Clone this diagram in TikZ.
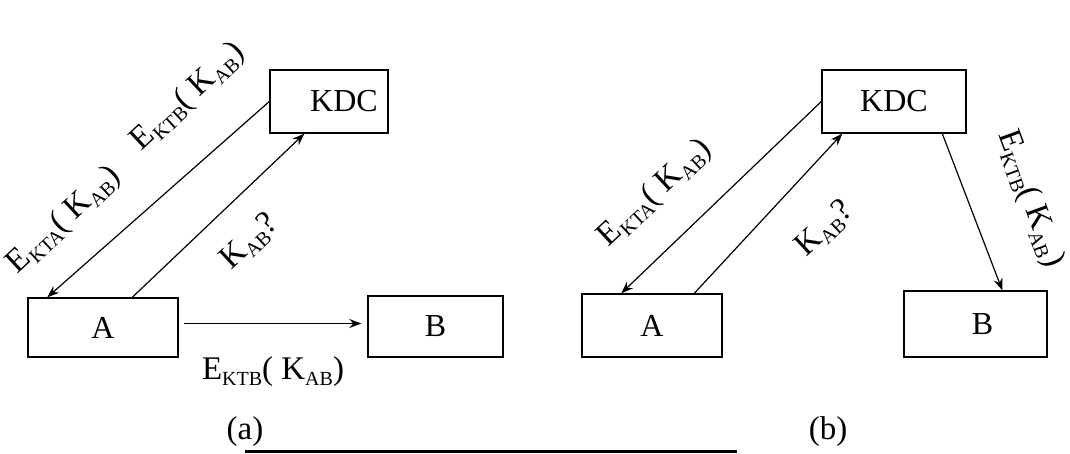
\documentclass[tikz,border=0pt]{standalone}
\usepackage{fontspec}
\setmainfont{Liberation Serif}
\usetikzlibrary{arrows.meta}
\newcommand\subs[1]{\raisebox{-6pt}{\fontsize{20}{20}\selectfont #1}}

\begin{document}
\begin{tikzpicture}[x=1pt, y=-1pt, line width=1.2pt,
  box/.style={draw, line width=1.4pt, inner sep=0pt, font=\fontsize{32}{36}\selectfont},
  msg/.style={inner sep=0pt, font=\fontsize{33}{36}\selectfont},
  arr/.style={-{Stealth[length=12pt, width=9pt, inset=4pt]}}]
  \useasboundingbox (0,0) rectangle (1070,453);
  % (a) A asks the KDC, then forwards B's copy
  \node[box, minimum width=118, minimum height=63,
        label={[box, draw=none, xshift=15pt]center:KDC}] (kdcA) at (329,101.5) {};
  \node[box, minimum width=150, minimum height=59] (aA) at (103,327.5) {A};
  \node[box, minimum width=135, minimum height=61] (bA) at (435.5,326.5) {B};
  \draw[arr] (kdcA.west) -- ([xshift=20pt]aA.north west);
  \draw[arr] ([xshift=105pt]aA.north west) -- ([xshift=35pt]kdcA.south west);
  \draw[arr] ([xshift=5pt, yshift=4pt]aA.east) -- ([xshift=-6pt, yshift=3pt]bA.west);
  \node[msg, rotate=43] (ktaA) at (64,220) {E\subs{KTA}( K\subs{AB})};
  \node[msg, rotate=43] (ktbA) at (188,97) {E\subs{KTB}( K\subs{AB})};
  \node[msg, rotate=43] (reqA) at (250,242) {K\subs{AB}?};
  \node[msg] (fwdA) at (273,372) {E\subs{KTB}( K\subs{AB})};
  \node[msg] (capA) at (245,432) {(a)};
  % (b) the KDC sends to A and to B itself
  \node[box, minimum width=144, minimum height=63] (kdcB) at (894,101.5) {KDC};
  \node[box, minimum width=140, minimum height=63] (aB) at (652,325.5) {A};
  \node[box, minimum width=143, minimum height=66,
        label={[box, draw=none, xshift=7pt]center:B}] (bB) at (975.5,324) {};
  \draw[arr] (kdcB.west) -- ([xshift=40pt]aB.north west);
  \draw[arr] ([xshift=113pt]aB.north west) -- ([xshift=21pt]kdcB.south west);
  \draw[arr] ([xshift=121pt]kdcB.south west) -- ([xshift=99pt]bB.north west);
  \node[msg, rotate=43] (ktaB) at (655,193) {E\subs{KTA}( K\subs{AB})};
  \node[msg, rotate=43] (reqB) at (825,229) {K\subs{AB}?};
  \node[msg, rotate=-70] (ktbB) at (1030,199) {E\subs{KTB}( K\subs{AB})};
  \node[msg] (capB) at (828,432) {(b)};
  % rule cut off at the bottom
  \draw[line width=3pt] (245,451.5) -- (737,451.5);
\end{tikzpicture}
\end{document}
